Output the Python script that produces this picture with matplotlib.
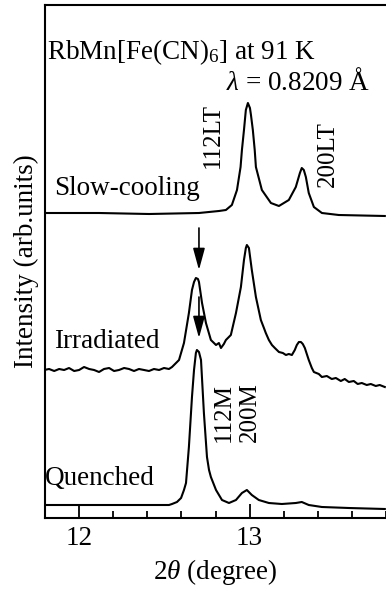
import matplotlib
matplotlib.use("Agg")
from matplotlib import pyplot as plt
from matplotlib.ticker import MultipleLocator

plt.rcParams["font.family"] = ["Liberation Serif", "DejaVu Serif"]
plt.rcParams["mathtext.fontset"] = "custom"
plt.rcParams["mathtext.rm"] = "Liberation Serif"
plt.rcParams["mathtext.it"] = "Liberation Serif:italic"

# 2theta (degree) and intensities (arb. units)
slow_x = [11.795, 12.117, 12.410, 12.703, 12.820, 12.861, 12.896, 12.926, 12.947,
          12.955, 12.967, 12.978, 12.990, 13.002, 13.008, 13.019, 13.030, 13.037,
          13.072, 13.125, 13.172, 13.230, 13.271, 13.283, 13.295, 13.306, 13.318,
          13.330, 13.347, 13.377, 13.424, 13.523, 13.793]
slow_y = [2, 2, 1, 2, 4, 5, 10, 25, 48, 65, 85, 105, 112, 107, 100, 85, 65, 48,
          25, 12, 9, 15, 28, 35, 42, 47, 45, 38, 22, 8, 2, 0, -1]

irr_x = [11.795, 11.824, 11.854, 11.883, 11.912, 11.941, 11.971, 12.000, 12.029,
         12.059, 12.088, 12.117, 12.146, 12.176, 12.205, 12.234, 12.264, 12.293,
         12.322, 12.351, 12.381, 12.410, 12.439, 12.469, 12.498, 12.527, 12.545,
         12.586, 12.615, 12.644, 12.662, 12.674, 12.685, 12.697, 12.703, 12.721,
         12.744, 12.773, 12.803, 12.820, 12.832, 12.849, 12.861, 12.890, 12.920,
         12.949, 12.967, 12.978, 12.984, 12.996, 13.013, 13.037, 13.066, 13.084,
         13.095, 13.113, 13.131, 13.148, 13.172, 13.195, 13.213, 13.230, 13.248,
         13.265, 13.277, 13.289, 13.301, 13.312, 13.324, 13.347, 13.365, 13.377,
         13.406, 13.424, 13.453, 13.482, 13.506, 13.535, 13.558, 13.582, 13.611,
         13.634, 13.658, 13.687, 13.711, 13.740, 13.763, 13.793]
irr_y = [0, 1, -1, 1, 0, 2, -1, 0, 3, 1, 0, -2, 1, 2, -1, 0, 2, 1, -1, 1, 0, -1,
         1, 0, 2, 1, 3, 10, 27, 57, 80, 88, 92, 91, 88, 67, 47, 30, 25, 27, 22,
         26, 30, 35, 57, 83, 110, 122, 125, 122, 100, 73, 50, 42, 37, 30, 25, 22,
         18, 17, 15, 16, 15, 20, 25, 28, 28, 26, 22, 10, 2, -2, -4, -7, -6, -9,
         -8, -11, -9, -12, -11, -14, -13, -15, -14, -16, -15, -17]

que_x = [11.795, 12.117, 12.410, 12.527, 12.545, 12.574, 12.598, 12.615, 12.627,
         12.644, 12.662, 12.674, 12.685, 12.691, 12.703, 12.715, 12.732, 12.750,
         12.762, 12.773, 12.803, 12.838, 12.879, 12.920, 12.955, 12.984, 13.013,
         13.054, 13.113, 13.189, 13.271, 13.306, 13.347, 13.424, 13.582, 13.793]
que_y = [0, 0, 0, 0, 1, 3, 7, 15, 22, 58, 108, 135, 152, 155, 153, 145, 92, 48,
         35, 28, 15, 5, 2, 5, 12, 15, 10, 5, 2, 1, 2, 3, 0, -2, -3, -4]

offsets = [303, 148, 13]
labels = ["Slow-cooling", "Irradiated", "Quenched"]
label_x = [11.854, 11.854, 11.800]
label_y = [323, 170, 33]

peak_labels = ["112LT", "200LT", "112M", "200M"]
peak_x = [12.782, 13.459, 12.849, 12.999]
peak_y = [383, 364, 106, 106]

arrow_x = 12.703
arrow_from = [290, 221]
arrow_to = [248, 180]

FS = 19.5

fig = plt.figure(figsize=(3.86, 5.89), dpi=100)
ax = fig.add_axes([45 / 386, 1 - 518 / 589, 341 / 386, 513 / 589])

for xs, ys, off in zip([slow_x, irr_x, que_x], [slow_y, irr_y, que_y], offsets):
    ax.plot(xs, [v + off for v in ys], color="k", lw=1.5)

ax.set_xlim(11.8, 13.8)
ax.set_ylim(0, 513)
ax.xaxis.set_major_locator(MultipleLocator(1))
ax.xaxis.set_minor_locator(MultipleLocator(0.2))
ax.set_yticks([])
ax.tick_params(axis="x", which="major", direction="in", length=10, width=1.3,
               labelsize=FS, pad=6)
ax.tick_params(axis="x", which="minor", direction="in", length=5, width=1.3)
ax.spines["right"].set_visible(False)
for s in ["left", "top", "bottom"]:
    ax.spines[s].set_linewidth(1.5)

ax.set_xlabel(r"2$\theta$ (degree)", fontsize=FS, labelpad=4)
ax.set_ylabel("Intensity (arb.units)", fontsize=FS, labelpad=4)

ax.text(11.813, 459, r"RbMn[Fe(CN)$_6$] at 91 K", fontsize=FS, va="baseline")
ax.text(12.861, 428, r"$\lambda$ = 0.8209 Å", fontsize=FS, va="baseline")

for t, x, y in zip(labels, label_x, label_y):
    ax.text(x, y, t, fontsize=FS, va="baseline", ha="left")
for t, x, y in zip(peak_labels, peak_x, peak_y):
    ax.text(x, y, t, fontsize=18, rotation=90, ha="center", va="center")

for y0, y1 in zip(arrow_from, arrow_to):
    ax.annotate("", xy=(arrow_x, y1), xytext=(arrow_x, y0),
                arrowprops=dict(arrowstyle="-|>,head_length=1.1,head_width=0.3",
                                mutation_scale=12, lw=1.2, color="k",
                                shrinkA=0, shrinkB=0))

fig.savefig("out.png", dpi=100)
